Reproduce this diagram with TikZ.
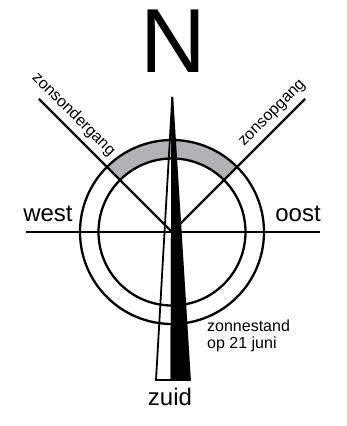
\documentclass[tikz,border=0pt]{standalone}
\usepackage{fontspec}
\setmainfont{Liberation Sans}
\usetikzlibrary{positioning}
\definecolor{ringgray}{RGB}{176,179,179}
\tikzset{
    every node/.append style = {
        inner sep = 0pt,
        text = black
    },
    compass/.style = {
        draw = black,
        line width = 2.3pt
    },
    needle/.style = {
        draw = black,
        line width = 1.8pt,
        line join = miter
    },
    windlabel/.style = {
        font = \fontsize{24}{24}\selectfont
    },
    sunlabel/.style = {
        font = \fontsize{16}{17}\selectfont
    }
}
\begin{document}
\begin{tikzpicture}[x=1pt, y=1pt]
    \useasboundingbox (-172,-194) rectangle (174,232);
    \coordinate (C) at (0,0);
    \coordinate (W) at (-146,0);
    \coordinate (E) at (148,0);
    \coordinate (SW) at (-133,133);
    \coordinate (SE) at (133,133);
    \coordinate (tip) at (0.3,135);
    \coordinate (foot) at (-0.5,-148);
    \coordinate (footL) at (-16,-148);
    \coordinate (footR) at (18,-148);
%grey band between sunset and sunrise
    \fill[ringgray] (45:92pt) arc[start angle=45, end angle=135, radius=92pt]
        -- (135:73.5pt) arc[start angle=135, end angle=45, radius=73.5pt] -- cycle;
    \draw[compass] (C) circle[radius=92pt];
    \draw[compass] (C) circle[radius=73.5pt];
    \draw[compass] (W) -- (E);
    \draw[compass] (C) -- (SW);
    \draw[compass] (C) -- (SE);
%add needle
    \draw[needle] (tip) -- (foot) -- (footL) -- cycle;
    \filldraw[needle, fill=black] (tip) -- (footR) -- (foot) -- cycle;
%add labels
    \node (N) [anchor=base, font=\fontsize{91}{91}\selectfont] at (1.5,159) {N};
    \node (west) [windlabel, anchor=base] at (-124,11) {west};
    \node (oost) [windlabel, anchor=base] at (126,11) {oost};
    \node (zuid) [windlabel, anchor=base] at (-2,-173) {zuid};
    \node (stand) [sunlabel, align=left, anchor=base west] at (35,-116) {zonnestand\\op 21 juni};
    \node (ondergang) [sunlabel, rotate=-45] at (-98.5,117.5) {zonsondergang};
    \node (opgang) [sunlabel, rotate=45] at (101,118) {zonsopgang};
\end{tikzpicture}
\end{document}
